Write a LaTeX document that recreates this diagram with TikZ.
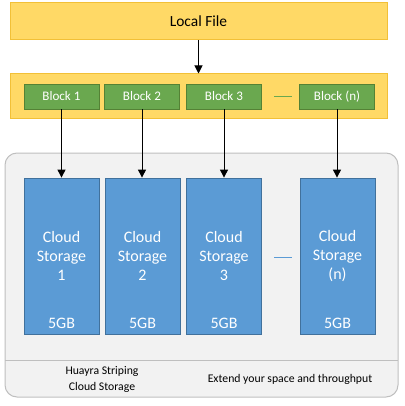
\documentclass[tikz,border=0pt]{standalone}
\usepackage{fontspec}
\setmainfont{Carlito}
\usetikzlibrary{arrows.meta}
\definecolor{ylw}{HTML}{FFD966}
\definecolor{ylwb}{HTML}{F2C037}
\definecolor{grn}{HTML}{6AA84F}
\definecolor{grnb}{HTML}{548235}
\definecolor{blu}{HTML}{5B9BD5}
\definecolor{blub}{HTML}{41719C}
\definecolor{gryf}{HTML}{F2F2F2}
\definecolor{gryb}{HTML}{BFBFBF}
\tikzset{
  ybox/.style={draw=ylwb, fill=ylw, line width=0.75pt},
  gbox/.style={draw=grnb, fill=grn, line width=0.6pt, text=white, font=\fontsize{9.8}{11}\selectfont,
     minimum width=56.25pt, minimum height=18.75pt, inner sep=0pt},
  sbox/.style={draw=blub, fill=blu, line width=0.6pt},
  stxt/.style={text=white, font=\fontsize{12}{14.2}\selectfont, align=center, inner sep=0pt},
  conn/.style={-{Triangle[length=6pt,width=6pt]}, line width=0.75pt, black},
  dsh/.style={line width=0.75pt}
}
\begin{document}
\begin{tikzpicture}[x=0.75pt,y=-0.75pt]
\useasboundingbox (0,0) rectangle (404,406);
% outer gray container
\draw[draw=gryb, fill=gryf, line width=0.75pt, rounded corners=9pt] (5,153) rectangle (398,397);
\draw[draw=gryb, line width=0.75pt] (5,360) -- (398,360);
% local file
\node[ybox, minimum width=282.75pt, minimum height=27.75pt, inner sep=0pt, font=\fontsize{11.6}{13}\selectfont] (lf) at (198.5,21.5) {Local File};
% blocks container
\node[ybox, minimum width=282.75pt, minimum height=33.75pt, inner sep=0pt] (bc) at (198.5,96.5) {};
\node[gbox] (b1) at (61.5,96.5) {Block 1};
\node[gbox] (b2) at (142,96.5) {Block 2};
\node[gbox] (b3) at (224,96.5) {Block 3};
\node[gbox] (bn) at (337,96.5) {Block (n)};
\coordinate (d1) at (274,96.5);
\coordinate (d2) at (292,96.5);
\draw[dsh, draw=grn] (d1) -- (d2);
% storage
\foreach \n/\x in {1/61.5,2/142.5,3/224,n/337.5}{
  \node[sbox, minimum width=56.25pt, minimum height=117pt, inner sep=0pt] (s\n) at (\x,256) {};
}
\node[stxt] at (61.5,256) {Cloud\\Storage\\1};
\node[stxt] at (142.5,256) {Cloud\\Storage\\2};
\node[stxt] at (224,256) {Cloud\\Storage\\3};
\node[stxt] at (337.5,256) {Cloud\\Storage\\(n)};
\foreach \x in {61.5,142.5,224,337.5}{
  \node[stxt] at (\x,323.5) {5GB};
}
\coordinate (e1) at (274,257);
\coordinate (e2) at (292,257);
\draw[dsh, draw=blu] (e1) -- (e2);
% arrows
\draw[conn] (lf.south) -- (bc.north);
\draw[conn] (b1.south) -- (b1.south |- s1.north);
\draw[conn] (b2.south) -- (b2.south |- s2.north);
\draw[conn] (b3.south) -- (b3.south |- s3.north);
\draw[conn] (bn.south) -- (bn.south |- sn.north);
% footer
\node[font=\fontsize{8.8}{12}\selectfont, align=center, inner sep=0pt] (ft1) at (102,379) {Huayra Striping\\Cloud Storage};
\node[font=\fontsize{8.8}{12}\selectfont, inner sep=0pt] (ft2) at (290,379) {Extend your space and throughput};
\end{tikzpicture}
\end{document}
